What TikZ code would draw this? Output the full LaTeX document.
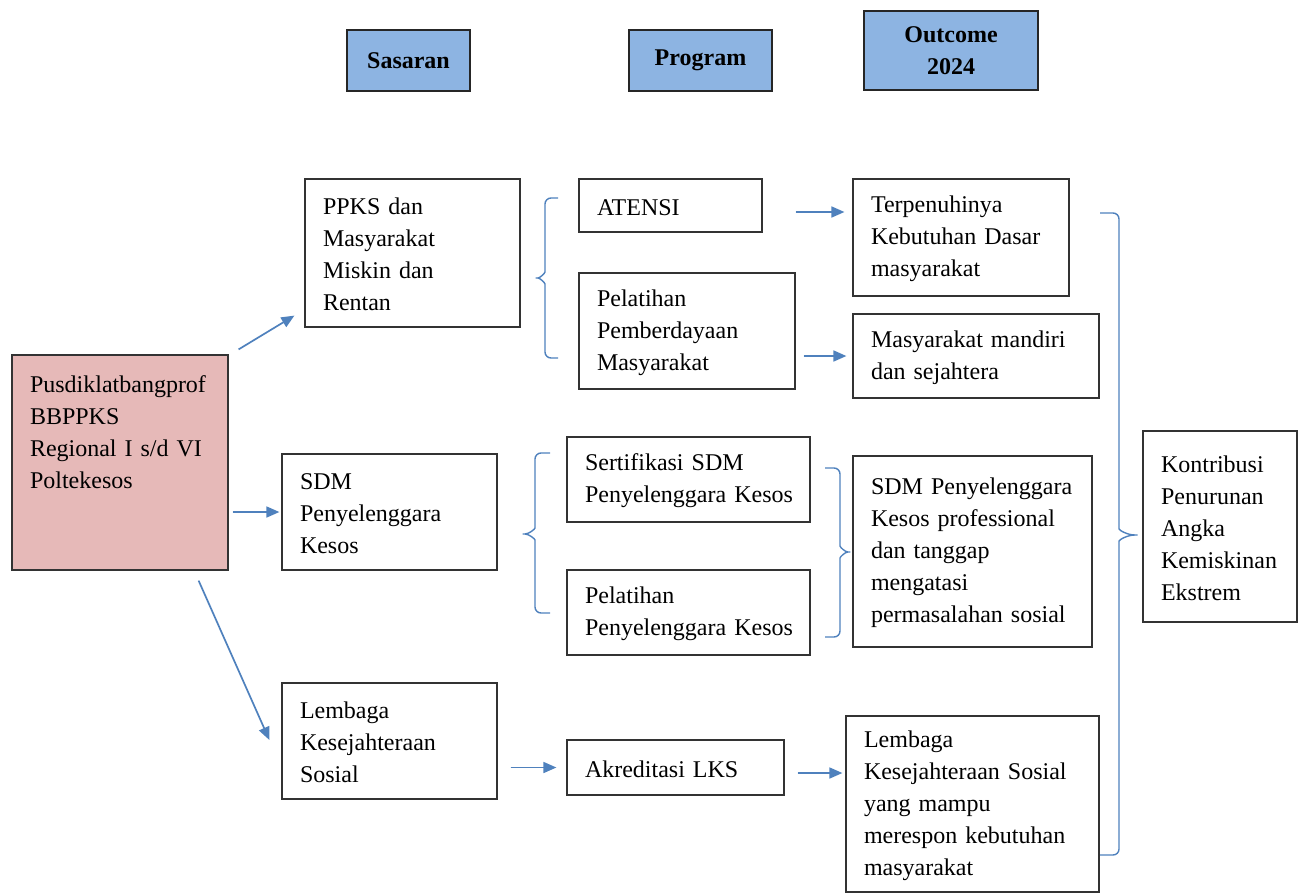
\documentclass[tikz,border=0pt]{standalone}
\usepackage{fontspec}
\setmainfont{Liberation Serif}
\usetikzlibrary{arrows.meta}
\definecolor{headblue}{HTML}{8DB4E2}
\definecolor{pinkfill}{HTML}{E6B9B8}
\definecolor{linkblue}{HTML}{4F81BD}
\hyphenpenalty=10000
\exhyphenpenalty=10000
\tikzset{
  box/.style={draw=black!80, line width=1.2pt, align=left, inner xsep=18pt, inner ysep=4pt,
    text height=20pt, font=\fontsize{24}{32}\selectfont},
  head/.style={draw=black!85, line width=2pt, fill=headblue, align=center,
    font=\bfseries\fontsize{24}{32}\selectfont},
  arr/.style={-{Triangle[length=13pt,width=11pt]}, line width=1.7pt, draw=linkblue, fill=linkblue},
  brc/.style={draw=linkblue, line width=1.4pt, rounded corners=6pt}
}
\begin{document}
\begin{tikzpicture}[x=1pt, y=-1pt]
\useasboundingbox (0,0) rectangle (1298,894);
% column headers
\node[head, minimum width=123, minimum height=61] (sasaran) at (408.5,60.5) {Sasaran};
\node[head, minimum width=143, minimum height=61] (program) at (700.5,60.5) {Program};
\node[head, minimum width=174, minimum height=79] (outcome) at (951,50.5) {Outcome\\2024};
% source
\node[box, fill=pinkfill, minimum width=216, minimum height=215, text width=180pt, text depth=160pt] (pusdik) at (120,462.5)
  {Pusdiklatbangprof\\BBPPKS\\Regional I s/d VI\\Poltekesos};
% sasaran
\node[box, minimum width=215, minimum height=148, text width=179pt] (ppks) at (412.5,253)
  {PPKS dan\\Masyarakat\\Miskin dan\\Rentan};
\node[box, minimum width=215, minimum height=116, text width=179pt] (sdm) at (389.5,512)
  {SDM\\Penyelenggara\\Kesos};
\node[box, minimum width=215, minimum height=116, text width=179pt] (lks) at (389.5,741)
  {Lembaga\\Kesejahteraan\\Sosial};
% program
\node[box, minimum width=183, minimum height=53, text width=147pt] (atensi) at (670.5,205.5) {ATENSI};
\node[box, minimum width=216, minimum height=116, text width=180pt] (pelpm) at (687,331)
  {Pelatihan\\Pemberdayaan\\Masyarakat};
\node[box, minimum width=243, minimum height=85, text width=207pt] (sertif) at (688.5,479.5)
  {Sertifikasi SDM\\Penyelenggara~Kesos};
\node[box, minimum width=243, minimum height=85, text width=207pt] (pelkesos) at (688.5,612.5)
  {Pelatihan\\Penyelenggara~Kesos};
\node[box, minimum width=217, minimum height=55, text width=181pt] (akred) at (675.5,767.5) {Akreditasi LKS};
% outcome
\node[box, minimum width=216, minimum height=117, text width=180pt] (terpenuhi) at (961,237.5)
  {Terpenuhinya\\Kebutuhan Dasar\\masyarakat};
\node[box, minimum width=246, minimum height=84, text width=210pt] (mandiri) at (976,356)
  {Masyarakat mandiri\\dan sejahtera};
\node[box, minimum width=239, minimum height=191, text width=203pt] (sdmout) at (972.5,551.5)
  {SDM Penyelenggara\\Kesos professional\\dan tanggap\\mengatasi\\permasalahan sosial};
\node[box, minimum width=253, minimum height=176, text width=217pt] (lksout) at (972.5,804)
  {Lembaga\\Kesejahteraan Sosial\\yang mampu\\merespon kebutuhan\\masyarakat};
\node[box, minimum width=154, minimum height=191, text width=118pt] (kontribusi) at (1220,526.5)
  {Kontribusi\\Penurunan\\Angka\\Kemiskinan\\Ekstrem};
% arrows
\draw[arr] ([shift={(10,-5)}]pusdik.north east) -- ([shift={(-10,-12)}]ppks.south west);
\draw[arr, shorten <=4pt, shorten >=2pt] (pusdik.east |- sdm.west) -- (sdm.west);
\draw[arr] ([shift={(-30,10)}]pusdik.south east) -- ([shift={(-12,-1)}]lks.west);
\draw[arr, shorten <=13pt, shorten >=10pt] (lks.east |- akred.west) -- (akred.west);
\draw[arr] ([shift={(33,6.5)}]atensi.east) -- ([shift={(-8,-25.5)}]terpenuhi.west);
\draw[arr, shorten <=8pt, shorten >=6pt] (pelpm.east |- mandiri.west) -- (mandiri.west);
\draw[arr] ([shift={(13,5.5)}]akred.east) -- ([shift={(-3,-31)}]lksout.west);
% braces
\draw[brc] (558,198) -| (545,266) .. controls (545,273) and (540,278) .. (532,278)
  .. controls (540,278) and (545,283) .. (545,290) |- (558,358);
\draw[brc] (550,453) -| (535,522) .. controls (535,529) and (529,534) .. (519,534)
  .. controls (529,534) and (535,539) .. (535,546) |- (550,613);
\draw[brc] (825,468) -| (840,540) .. controls (840,547) and (845,552) .. (854,552)
  .. controls (845,552) and (840,557) .. (840,564) |- (825,637);
\draw[brc] (1100,213) -| (1119,523) .. controls (1119,530) and (1127,535) .. (1141,535)
  .. controls (1127,535) and (1119,540) .. (1119,547) |- (1100,855);
\end{tikzpicture}
\end{document}
